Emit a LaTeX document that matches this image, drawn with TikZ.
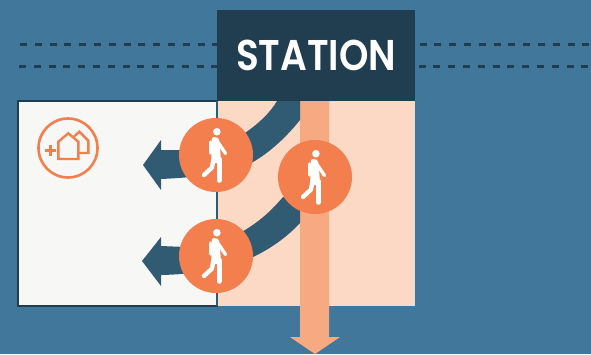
\documentclass[tikz,border=0pt]{standalone}
\usepackage{fontspec}
\setmainfont{Poppins}[BoldFont={Poppins SemiBold}]
\definecolor{bgblue}{HTML}{41779A}
\definecolor{navy}{HTML}{213D50}
\definecolor{flow}{HTML}{315A73}
\definecolor{peach}{HTML}{FCD9C4}
\definecolor{band}{HTML}{F7A982}
\definecolor{orng}{HTML}{F27F4D}
\definecolor{paper}{HTML}{F7F7F5}
\tikzset{
  walkercircle/.style={circle,fill=orng,minimum size=74pt,inner sep=0pt},
  track/.style={navy,line width=2.8pt,dash pattern=on 7pt off 7.8pt},
  limb/.style={white,line width=3.4pt,line cap=round,line join=round},
  iconline/.style={orng,line width=2.4pt,line join=miter},
  walker/.pic={
    \fill[white] (0.9,-23.3) circle (3.8);
    \fill[white] (-2.5,-18) .. controls (0,-18.5) and (3,-17.5) .. (3.6,-13) -- (5.2,8) -- (-4.6,8) -- (-4.5,-14) .. controls (-4.5,-16) and (-3.5,-17.8) .. (-2.5,-18) -- cycle;
    \draw[limb] (-5.6,-13) -- (-5.6,-2);
    \draw[limb] (2.5,-12) -- (9.5,-1.5);
    \draw[limb,line width=4.6pt] (3.2,4) -- (3.2,25.5);
    \draw[limb,line width=4.4pt] (-2.6,4) -- (-4,12.5) -- (-12,20);
  }
}
\begin{document}
\begin{tikzpicture}[x=1pt,y=-1pt]
\useasboundingbox (0,0) rectangle (591,354);
\fill[bgblue] (0,0) rectangle (591,354);
% tracks
\coordinate (t1a) at (20,44.5); \coordinate (t1b) at (591,44.5);
\coordinate (t2a) at (19,66.5); \coordinate (t2b) at (591,66.5);
\draw[track] (t1a) -- (t1b);
\draw[track] (t2a) -- (t2b);
% zones
\fill[peach] (217,101) rectangle (415,306);
\draw[navy,line width=2.4pt,fill=paper] (217,101) -- (18,101) -- (18,306) -- (217,306) -- cycle;
\draw[flow,line width=2.4pt] (217,101) -- (217,306);
% exit band
\fill[band] (300,101) -- (329,101) -- (329,337) -- (340,337) -- (315,354) -- (290,337) -- (300,337) -- cycle;
% flows
\fill[flow] (277,101) -- (300,101) -- (300,120)
  .. controls (288,135) and (272,151) .. (253,162)
  .. controls (235,172) and (205,177) .. (161,179)
  -- (161,190) -- (143,165) -- (161,140) -- (161,150)
  -- (190,150) .. controls (212,150) and (230,143) .. (245,133)
  .. controls (258,124) and (270,113) .. (277,101) -- cycle;
\fill[flow] (283,197) -- (300,205) -- (300,223)
  .. controls (288,236) and (272,248) .. (253,257)
  .. controls (235,266) and (205,274) .. (161,275)
  -- (161,286) -- (142,261) -- (161,237) -- (161,246)
  -- (185,247) .. controls (210,247) and (230,240) .. (245,230)
  .. controls (260,221) and (272,210) .. (283,197) -- cycle;
% station
\node[fill=navy,minimum width=198pt,minimum height=91pt,inner sep=0pt] (station) at (316,55.5) {};
\node[text=white,inner sep=0pt,font=\fontsize{43}{43}\bfseries] (stationlabel) at (316,55.5) {\scalebox{0.87}[1]{STATION}};
% walkers
\node[walkercircle] (w1) at (216,155) {};
\node[walkercircle] (w2) at (315,177) {};
\node[walkercircle] (w3) at (216,256) {};
\pic at (w1) {walker};
\pic at (w2) {walker};
\pic at (w3) {walker};
% icon
\draw[orng,line width=2.6pt] (68,148) circle (29.5);
\draw[iconline] (74,136.7) -- (79.3,131.7) -- (88.3,140.7) -- (88.3,153) -- (78.3,153);
\draw[iconline] (58.3,159) -- (58.3,141.7) -- (68.3,133.3) -- (78.3,141.7) -- (78.3,159) -- cycle;
\draw[orng,line width=3pt] (44.5,150) -- (55.5,150) (50,144.5) -- (50,155.5);
\end{tikzpicture}
\end{document}
